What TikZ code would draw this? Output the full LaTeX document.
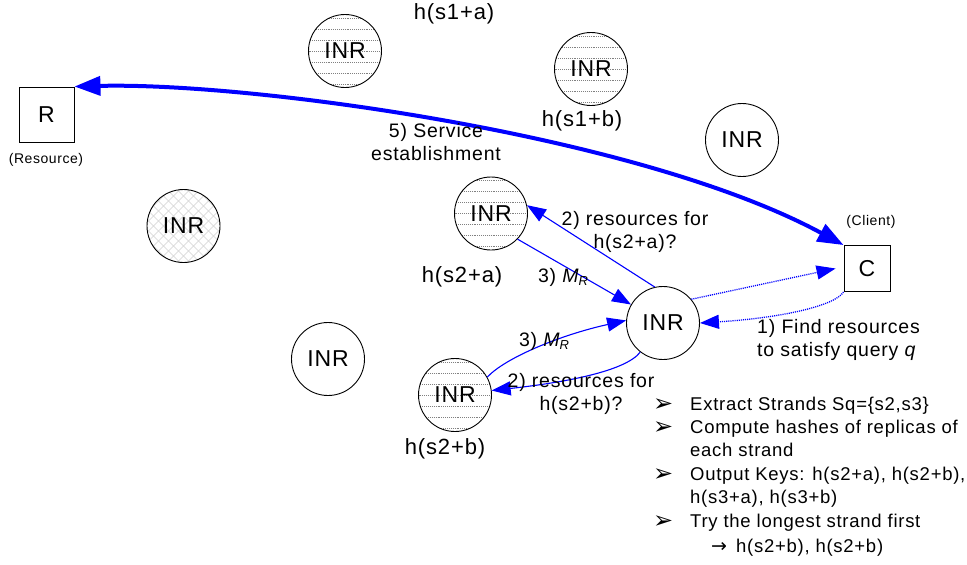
\documentclass[tikz,border=0pt]{standalone}
\usepackage{fontspec}
\setmainfont[LetterSpace=4]{Liberation Sans}
\newfontfamily\symfont{DejaVu Sans}
\usetikzlibrary{arrows.meta}

\newcommand{\fsz}[1]{\fontsize{#1}{#1}\selectfont}
\newcommand{\MR}{{\itshape M}\raisebox{-0.35ex}{\fsz{13}\itshape R}}

\tikzset{
  inr/.style={circle, draw, line width=0.9pt, minimum size=73pt, inner sep=0pt,
              font=\fsz{23}, fill=white},
  striped/.style={inr, path picture={
      \foreach \k in {-3,...,3}
        \draw[gray, densely dotted, line width=0.9pt]
          ([yshift=\k*11pt]path picture bounding box.west) --
          ([yshift=\k*11pt]path picture bounding box.east);}},
  meshed/.style={inr, path picture={
      \foreach \k in {-9,...,9} {
        \draw[gray!35, line width=0.5pt]
          ([xshift=\k*10pt-40pt, yshift=-40pt]path picture bounding box.center) -- ++(80pt,80pt);
        \draw[gray!35, line width=0.5pt]
          ([xshift=\k*10pt+40pt, yshift=-40pt]path picture bounding box.center) -- ++(-80pt,80pt);}}},
  endpoint/.style={draw, line width=0.9pt, inner sep=0pt, font=\fsz{23}},
  hashlbl/.style={font=\fsz{22}},
  tag/.style={font=\fsz{14}},
  msglbl/.style={font=\fsz{19.5}, align=center, inner sep=0pt},
  item/.style={font=\fsz{18.5}, anchor=base west, inner sep=0pt},
  bullet/.style={font=\symfont\fsz{24}, anchor=base west, inner sep=0pt},
  msg/.style={blue, line width=1.1pt, -{Triangle[length=19pt,width=14pt]}},
  ask/.style={msg, densely dotted, line width=1.3pt},
  svc/.style={blue, line width=4pt,
              {Triangle[length=26pt,width=19pt]}-{Triangle[length=26pt,width=19pt]}},
}

\begin{document}
\begin{tikzpicture}[x=1pt, y=-1pt]
\useasboundingbox (0,0) rectangle (967,565);

% endpoints
\node[endpoint, minimum size=55pt] (R) at (46.5,114.5) {R};
\node[tag] (Rtag) at (46,160) {(Resource)};
\node[endpoint, minimum size=46pt] (C) at (867,268.5) {C};
\node[tag] (Ctag) at (871,222) {(Client)};

% overlay routers
\node[striped] (s1a) at (345,51) {INR};
\node[striped] (s1b) at (591,69) {INR};
\node[inr] (plain1) at (742,140) {INR};
\node[meshed] (mesh) at (183.5,226) {INR};
\node[striped] (s2a) at (491,213.5) {INR};
\node[inr] (main) at (663,323) {INR};
\node[inr] (plain2) at (328,359) {INR};
\node[striped] (s2b) at (455,395) {INR};

% hash labels
\node[hashlbl] (h1a) at (454,14) {h(s1+a)};
\node[hashlbl] (h1b) at (582,121) {h(s1+b)};
\node[hashlbl] (h2a) at (462,277) {h(s2+a)};
\node[hashlbl] (h2b) at (445,449) {h(s2+b)};

% service establishment
\draw[svc] (R.north east) .. controls (250,82) and (640,135) .. (C.north west);
\node[msglbl] (svclbl) at (436,142) {5) Service\\[4pt]establishment};

% query from client
\draw[ask] (C.south west) .. controls (835,306) and (780,318) .. (main.east);
\node[msglbl, align=left, anchor=west] (qlbl) at (757,340)
  {1) Find resources\\[4pt]to satisfy query {\itshape q}};

% lookups towards the replicas
\draw[msg] (main.103) -- (s2a.13);
\node[msglbl] (ask2a) at (635,232) {2) resources for\\[4pt]h(s2+a)?};
\draw[msg] (s2a.-44) -- (main.150);
\node[msglbl] (mr2a) at (563,277) {3) \MR};

\draw[msg] (main.232) .. controls (625,372) and (560,383) .. (s2b.7);
\node[msglbl] (ask2b) at (581,394) {2) resources for\\[4pt]h(s2+b)?};
\draw[msg] (s2b.29) .. controls (505,358) and (560,335) .. (main.176);
\node[msglbl] (mr2b) at (544,341) {3) \MR};

% answer to client
\draw[ask] (main.40) -- ([xshift=-8pt]C.west);

% steps at the client
\node[bullet] (b1) at (653,411) {➢};
\node[item] (t1) at (690,410) {Extract Strands Sq=\{s2,s3\}};
\node[bullet] (b2) at (653,434) {➢};
\node[item] (t2) at (690,433) {Compute hashes of replicas of};
\node[item] (t2b) at (690,456) {each strand};
\node[bullet] (b3) at (653,481) {➢};
\node[item] (t3) at (690,480) {Output Keys: h(s2+a), h(s2+b),};
\node[item] (t3b) at (690,503) {h(s3+a), h(s3+b)};
\node[bullet] (b4) at (653,528) {➢};
\node[item] (t4) at (690,527) {Try the longest strand first};
\node[item] (t5) at (711,552) {{\symfont\fsz{19}→}\, h(s2+b), h(s2+b)};
\end{tikzpicture}
\end{document}
